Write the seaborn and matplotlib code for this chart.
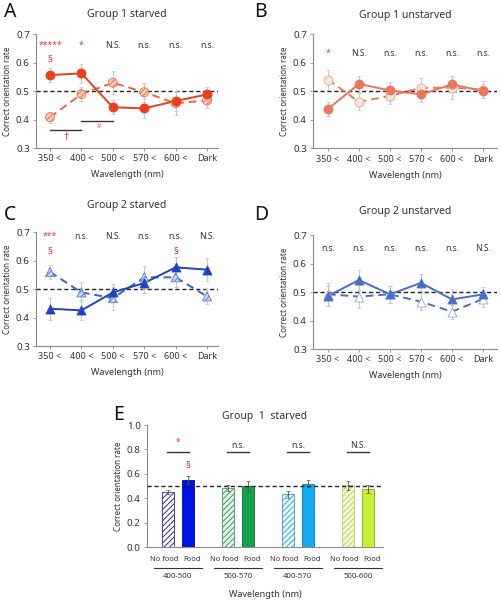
import numpy as np
import pandas as pd
import matplotlib
matplotlib.use('Agg')
import matplotlib.pyplot as plt
import seaborn as sns

# --Data--

wavelengths = ['350 <', '400 <', '500 <', '570 <', '600 <', 'Dark']

# -Panel A: group 1 starved (solid = filled, dashed = hatched)
a_solid = [0.556, 0.562, 0.443, 0.439, 0.465, 0.488]
a_solid_err = [0.026, 0.034, 0.025, 0.035, 0.035, 0.025]
a_dashed = [0.408, 0.489, 0.529, 0.496, 0.457, 0.467]
a_dashed_err = [0.020, 0.025, 0.040, 0.033, 0.040, 0.025]
a_sig = ['*****', '*', 'N.S.', 'n.s.', 'n.s.', 'n.s.']

# -Panel B: group 1 unstarved
b_solid = [0.438, 0.526, 0.503, 0.489, 0.524, 0.501]
b_solid_err = [0.025, 0.028, 0.028, 0.028, 0.028, 0.025]
b_dashed = [0.541, 0.463, 0.484, 0.512, 0.513, 0.506]
b_dashed_err = [0.035, 0.030, 0.030, 0.035, 0.040, 0.030]
b_sig = ['*', 'N.S.', 'n.s.', 'n.s.', 'n.s.', 'n.s.']

# -Panel C: group 2 starved
c_solid = [0.431, 0.425, 0.488, 0.521, 0.576, 0.568]
c_solid_err = [0.038, 0.035, 0.030, 0.035, 0.035, 0.040]
c_dashed = [0.560, 0.488, 0.468, 0.541, 0.541, 0.474]
c_dashed_err = [0.025, 0.035, 0.040, 0.040, 0.035, 0.025]
c_sig = ['***', 'n.s.', 'N.S.', 'n.s.', 'n.s.', 'N.S.']

# -Panel D: group 2 unstarved
d_solid = [0.486, 0.542, 0.492, 0.532, 0.474, 0.492]
d_solid_err = [0.035, 0.035, 0.030, 0.030, 0.035, 0.025]
d_dashed = [0.492, 0.484, 0.492, 0.466, 0.431, 0.476]
d_dashed_err = [0.040, 0.040, 0.030, 0.030, 0.025, 0.030]
d_sig = ['n.s.', 'n.s.', 'n.s.', 'n.s.', 'n.s.', 'N.S.']

# -Panel E: bars, no food / food per wavelength range
e_ranges = ['400-500', '500-570', '400-570', '500-600']
e_nofood = [0.451, 0.487, 0.432, 0.506]
e_nofood_err = [0.020, 0.025, 0.030, 0.035]
e_food = [0.549, 0.500, 0.520, 0.475]
e_food_err = [0.030, 0.045, 0.030, 0.030]
e_sig = ['*', 'n.s.', 'n.s.', 'N.S.']

RED = '#E8343A'
TXT = '#333333'

plt.rcParams['font.family'] = ['Noto Sans', 'DejaVu Sans']
plt.rcParams['hatch.linewidth'] = 0.7

fig = plt.figure(figsize=(5.01, 6.0), dpi=100)


def style_axes(ax, ylim, yticks):
    sns.despine(ax=ax)
    for s in ['left', 'bottom']:
        ax.spines[s].set_color('#8c8c8c')
        ax.spines[s].set_linewidth(0.8)
    ax.set_ylim(*ylim)
    ax.set_yticks(yticks)
    ax.set_yticklabels([f'{t:.1f}' for t in yticks], fontsize=7, color=TXT)
    ax.tick_params(axis='both', length=2.5, width=0.6, color='#8c8c8c', pad=2)
    ax.set_ylabel('Correct orientation rate', fontsize=5.8, color=TXT, labelpad=3)


def line_panel(rect, xlim, title, solid, solid_err, dashed, dashed_err, marker,
               solid_col, dashed_col, face, edge, hatch, sig, sig_y, title_pad):
    ax = fig.add_axes(rect)
    x = np.arange(len(wavelengths))
    ax.axhline(0.5, color='#222222', ls=(0, (3, 2)), lw=1.0, zorder=1)
    ax.errorbar(x, dashed, yerr=dashed_err, fmt='none', ecolor='#c8c8c8',
                elinewidth=0.8, capsize=1.5, capthick=0.6, zorder=2)
    ax.errorbar(x, solid, yerr=solid_err, fmt='none', ecolor='#c8c8c8',
                elinewidth=0.8, capsize=1.5, capthick=0.6, zorder=2)
    sns.lineplot(x=x, y=dashed, color=dashed_col, lw=1.4, ls=(0, (4, 2.5)),
                 ax=ax, zorder=3)
    sns.lineplot(x=x, y=solid, color=solid_col, lw=1.4, ax=ax, zorder=3)
    with plt.rc_context({'hatch.color': edge}):
        sns.scatterplot(x=x, y=dashed, marker=marker, s=42, color=face,
                        edgecolor=edge, linewidth=0.6, hatch=hatch, ax=ax,
                        zorder=4)
    sns.scatterplot(x=x, y=solid, marker=marker, s=42, color=solid_col,
                    edgecolor=solid_col, linewidth=0.6, ax=ax, zorder=5)
    style_axes(ax, (0.3, 0.7), [0.3, 0.4, 0.5, 0.6, 0.7])
    ax.set_xlim(*xlim)
    ax.set_xticks(x)
    ax.set_xticklabels(wavelengths, fontsize=6.5, color=TXT)
    ax.set_xlabel('Wavelength (nm)', fontsize=6.5, color=TXT, labelpad=5)
    ax.set_title(title, fontsize=7.5, color=TXT, pad=title_pad)
    for i, s in enumerate(sig):
        col = RED if '*' in s else TXT
        ax.text(i, sig_y, s, ha='center', va='center', fontsize=6.2, color=col)
    return ax


# --Panels A-D--
ax_a = line_panel([0.0719, 0.7533, 0.3633, 0.19], (-0.446, 5.35), 'Group 1 starved',
                  a_solid, a_solid_err, a_dashed, a_dashed_err, 'o',
                  '#E8401C', '#EC6542', '#F7CDBE', '#E8734F', '//////',
                  a_sig, 0.661, 12)
ax_a.text(0, 0.611, '§', ha='center', va='center', fontsize=7, color=RED)
ax_a.plot([0, 1], [0.363, 0.363], color='#333333', lw=1.0, clip_on=False)
ax_a.text(0.5, 0.336, '†', ha='center', va='center', fontsize=7.5, color=RED)
ax_a.plot([1, 2], [0.394, 0.394], color='#333333', lw=1.0, clip_on=False)
ax_a.text(1.55, 0.377, '#', ha='center', va='center', fontsize=5, color='#E86A50')

ax_b = line_panel([0.6248, 0.7528, 0.3673, 0.19], (-0.48, 5.45), 'Group 1 unstarved',
                  b_solid, b_solid_err, b_dashed, b_dashed_err, 'o',
                  '#E8775B', '#E8775B', '#FBE5DC', '#EBA48F', None,
                  b_sig, 0.632, 12)

ax_c = line_panel([0.0719, 0.4233, 0.3633, 0.19], (-0.446, 5.35), 'Group 2 starved',
                  c_solid, c_solid_err, c_dashed, c_dashed_err, '^',
                  '#1E44C2', '#3A62CC', '#CDD8F2', '#5B7CD2', '//////',
                  c_sig, 0.686, 17)
ax_c.text(0, 0.63, '§', ha='center', va='center', fontsize=7, color=RED)
ax_c.text(4, 0.63, '§', ha='center', va='center', fontsize=7, color=RED)

ax_d = line_panel([0.6248, 0.4183, 0.3673, 0.19], (-0.48, 5.45), 'Group 2 unstarved',
                  d_solid, d_solid_err, d_dashed, d_dashed_err, '^',
                  '#4A6EC8', '#4A6EC8', '#FFFFFF', '#93A8DC', None,
                  d_sig, 0.654, 15)

# --Panel E: bars--
ax_e = fig.add_axes([0.2934, 0.0883, 0.471, 0.2033])
pairs = np.arange(len(e_ranges)) * 3
pos_nofood = pairs
pos_food = pairs + 1
bars = pd.DataFrame({
    'pos': np.concatenate([pos_nofood, pos_food]),
    'rate': e_nofood + e_food,
})
sns.barplot(data=bars, x='pos', y='rate', native_scale=True, width=0.6,
            color='white', errorbar=None, ax=ax_e, zorder=2)

nofood_face = ['#FFFFFF', '#E6F4EA', '#F0FAFD', '#F4F8D8']
nofood_edge = ['#2B2B9C', '#3A9E5A', '#2AA8D8', '#BFD060']
food_face = ['#0010E6', '#14A04C', '#12AAEE', '#C8F032']
food_edge = ['#0A0A80', '#0E7035', '#0A7AB0', '#8AA820']
patches = sorted(ax_e.patches, key=lambda p: p.get_x())
for k, p in enumerate(patches):
    g = k // 2
    if k % 2 == 0:
        p.set_facecolor(nofood_face[g])
        p.set_edgecolor(nofood_edge[g])
        p.set_hatch('//////')
    else:
        p.set_facecolor(food_face[g])
        p.set_edgecolor(food_edge[g])
    p.set_linewidth(0.6)

ax_e.errorbar(pos_nofood, e_nofood, yerr=e_nofood_err, fmt='none', ecolor='#555555',
              elinewidth=0.6, capsize=1.5, capthick=0.5, zorder=3)
ax_e.errorbar(pos_food, e_food, yerr=e_food_err, fmt='none', ecolor='#555555',
              elinewidth=0.6, capsize=1.5, capthick=0.5, zorder=3)
ax_e.axhline(0.5, color='#222222', ls=(0, (3, 2)), lw=1.0, zorder=4)

style_axes(ax_e, (0, 1.0), [0.0, 0.2, 0.4, 0.6, 0.8, 1.0])
ax_e.set_xlim(-1.05, 10.75)
ax_e.set_xticks([])
ax_e.set_xlabel('')
ax_e.set_title('Group  1  starved', fontsize=7.5, color=TXT, pad=4)

tr = ax_e.get_xaxis_transform()
for g, rng in enumerate(e_ranges):
    c = pairs[g] + 0.5
    ax_e.plot([c - 0.55, c + 0.55], [0.78, 0.78], color='#333333', lw=1.0)
    col = RED if '*' in e_sig[g] else TXT
    ax_e.text(c, 0.855 if '*' in e_sig[g] else 0.835, e_sig[g], ha='center',
              va='center', fontsize=6.2, color=col)
    ax_e.text(pos_nofood[g] - 0.2, -0.105, 'No food', transform=tr, ha='center',
              va='center', fontsize=5.4, color=TXT)
    ax_e.text(pos_food[g] + 0.2, -0.105, 'Food', transform=tr, ha='center',
              va='center', fontsize=5.4, color=TXT)
    ax_e.plot([c - 1.2, c + 1.2], [-0.172, -0.172], transform=tr, color='#333333',
              lw=0.8, clip_on=False)
    ax_e.text(c, -0.24, rng, transform=tr, ha='center', va='center',
              fontsize=5.6, color=TXT)
ax_e.text(pos_food[0], 0.665, '§', ha='center', va='center', fontsize=7, color=RED)
ax_e.text(0.5, -0.39, 'Wavelength (nm)', transform=ax_e.transAxes, ha='center',
          va='center', fontsize=6.5, color=TXT)

# --Panel letters--
for letter, (px, py) in {'A': (4, 12), 'B': (254, 12), 'C': (4, 215),
                         'D': (254, 215), 'E': (113, 415)}.items():
    fig.text(px / 501, 1 - py / 600, letter, fontsize=14, color='#111111',
             ha='left', va='center')

fig.savefig('out.png', dpi=100)
